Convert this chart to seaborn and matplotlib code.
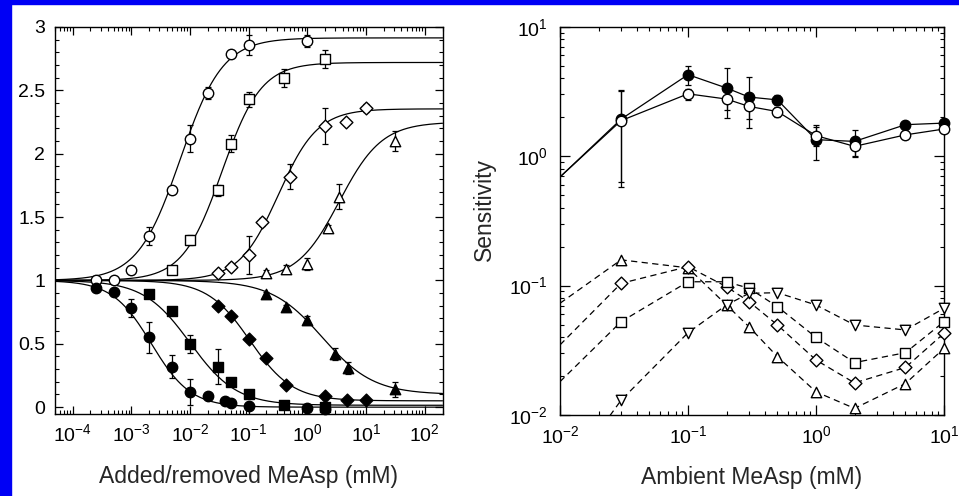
"""
Recreation: MeAsp dose-response (left) and sensitivity vs ambient MeAsp (right).
"""
import numpy as np
import seaborn as sns
import matplotlib.pyplot as plt
from matplotlib.patches import Rectangle
from matplotlib.ticker import MultipleLocator, LogLocator, NullFormatter, FixedLocator

# ---------------- Left panel: responses to added (open) / removed (filled) MeAsp
CIRC_OPEN_X = [2.5e-4, 5e-4, 1e-3, 2e-3, 5e-3, 1e-2, 2e-2, 5e-2, 0.1, 1.0]
CIRC_OPEN_Y = [1.0, 1.0, 1.08, 1.35, 1.71, 2.12, 2.48, 2.79, 2.86, 2.89]
CIRC_OPEN_E = [0.0, 0.0, 0.03, 0.07, 0.03, 0.11, 0.05, 0.03, 0.08, 0.05]

SQ_OPEN_X = [5e-3, 1e-2, 3e-2, 5e-2, 0.1, 0.4, 2.0]
SQ_OPEN_Y = [1.08, 1.32, 1.71, 2.08, 2.43, 2.60, 2.75]
SQ_OPEN_E = [0.03, 0.04, 0.04, 0.07, 0.06, 0.07, 0.07]

DIA_OPEN_X = [3e-2, 5e-2, 0.1, 0.17, 0.5, 2.0, 4.5, 10.0]
DIA_OPEN_Y = [1.06, 1.11, 1.20, 1.46, 1.82, 2.22, 2.25, 2.36]
DIA_OPEN_E = [0.02, 0.03, 0.15, 0.03, 0.10, 0.14, 0.02, 0.03]

TRI_OPEN_X = [0.2, 0.43, 1.0, 2.26, 3.5, 31.0]
TRI_OPEN_Y = [1.06, 1.09, 1.13, 1.41, 1.66, 2.10]
TRI_OPEN_E = [0.02, 0.03, 0.05, 0.03, 0.10, 0.08]

CIRC_FILL_X = [2.5e-4, 5e-4, 1e-3, 2e-3, 5e-3, 1e-2, 2e-2, 4e-2, 5e-2, 0.1, 1.0, 2.0]
CIRC_FILL_Y = [0.94, 0.91, 0.78, 0.55, 0.32, 0.12, 0.09, 0.045, 0.03, 0.01, -0.01, -0.015]
CIRC_FILL_E = [0.02, 0.03, 0.07, 0.12, 0.09, 0.10, 0.02, 0.02, 0.02, 0.02, 0.01, 0.01]

SQ_FILL_X = [2e-3, 5e-3, 1e-2, 3e-2, 5e-2, 0.1, 0.4, 2.0]
SQ_FILL_Y = [0.89, 0.76, 0.50, 0.32, 0.195, 0.10, 0.02, 0.0]
SQ_FILL_E = [0.02, 0.03, 0.07, 0.14, 0.03, 0.03, 0.02, 0.02]

DIA_FILL_X = [3e-2, 5e-2, 0.1, 0.2, 0.43, 2.0, 4.7, 10.0]
DIA_FILL_Y = [0.80, 0.72, 0.535, 0.386, 0.176, 0.085, 0.06, 0.06]
DIA_FILL_E = [0.02, 0.02, 0.02, 0.02, 0.02, 0.02, 0.01, 0.01]

TRI_FILL_X = [0.2, 0.43, 1.0, 2.9, 5.0, 31.0]
TRI_FILL_Y = [0.89, 0.79, 0.69, 0.42, 0.31, 0.14]
TRI_FILL_E = [0.02, 0.02, 0.03, 0.05, 0.05, 0.06]

# Hill fit parameters: (plateau or baseline, K [mM], n)
FIT_OPEN = {'o': (2.914, 6.8e-3, 1.2), 's': (2.72, 0.035, 1.3),
            'D': (2.354, 0.32, 1.3), '^': (2.25, 3.5, 1.2)}
FIT_FILL = {'o': (0.0, 2.2e-3, 1.3), 's': (0.015, 1.0e-2, 1.1),
            'D': (0.05, 0.105, 1.2), '^': (0.10, 1.8, 1.0)}

LEFT_XTICKS = [1e-4, 1e-3, 1e-2, 1e-1, 1e0, 1e1, 1e2]
LEFT_YTICKS = [0, 0.5, 1, 1.5, 2, 2.5, 3]
LEFT_YTICKLABELS = ['0', '0.5', '1', '1.5', '2', '2.5', '3']

# ---------------- Right panel: sensitivity vs ambient MeAsp
AMB_X = [0.01, 0.03, 0.1, 0.2, 0.3, 0.5, 1.0, 2.0, 5.0, 10.0]
SENS_FILL = [0.69, 1.93, 4.26, 3.36, 2.86, 2.72, 1.34, 1.30, 1.75, 1.80]
SENS_FILL_E = [0.0, 1.3, 0.7, 1.4, 1.2, 0.25, 0.4, 0.3, 0.1, 0.1]
SENS_OPEN = [0.69, 1.88, 3.03, 2.76, 2.42, 2.21, 1.44, 1.19, 1.46, 1.62]
SENS_OPEN_E = [0.0, 1.3, 0.3, 0.5, 0.5, 0.2, 0.25, 0.2, 0.1, 0.1]

LOW_TRI_UP = [0.073, 0.158, 0.137, 0.0708, 0.048, 0.0282, 0.0151, 0.01125, 0.0175, 0.0327]
LOW_DIAMOND = [0.0348, 0.104, 0.140, 0.098, 0.0751, 0.0496, 0.0266, 0.0177, 0.0233, 0.0428]
LOW_SQUARE = [0.0181, 0.0526, 0.107, 0.107, 0.0953, 0.0687, 0.0398, 0.0254, 0.0303, 0.0526]
LOW_TRI_DOWN = [0.0029, 0.0130, 0.0432, 0.0708, 0.0871, 0.0881, 0.0708, 0.0496, 0.0454, 0.0667]

RIGHT_TICKS = [1e-2, 1e-1, 1e0, 1e1]

LEFT_XLABEL = 'Added/removed MeAsp (mM)'
RIGHT_XLABEL = 'Ambient MeAsp (mM)'
RIGHT_YLABEL = 'Sensitivity'

sns.set_style('ticks')
plt.rcParams['font.family'] = ['Liberation Sans', 'DejaVu Sans']
plt.rcParams['mathtext.default'] = 'regular'
plt.rcParams['axes.linewidth'] = 1.0

MS = 7.5
TICK_FS = 14
LABEL_FS = 16.5


def markers(ax, x, y, marker, filled, size=MS):
    sns.scatterplot(x=x, y=y, ax=ax, marker=marker, s=size ** 2,
                    color='black' if filled else 'white', edgecolor='black',
                    linewidth=1.0, zorder=4, clip_on=False, legend=False)


def errbars(ax, x, y, e):
    ax.errorbar(x, y, yerr=e, fmt='none', ecolor='black', elinewidth=0.9,
                capsize=2, capthick=0.9, zorder=3)


def style_axes(ax):
    ax.tick_params(which='both', direction='in', top=True, right=True,
                   labelsize=TICK_FS, colors='black')
    ax.tick_params(which='major', length=6, width=0.9)
    ax.tick_params(which='minor', length=3, width=0.8)
    for sp in ax.spines.values():
        sp.set_visible(True)
        sp.set_color('black')


fig = plt.figure(figsize=(9.59, 4.96), dpi=100)
fig.patch.set_facecolor('white')
# blue frame strips on top and left edges
fig.add_artist(Rectangle((0, 0), 11 / 959, 1, transform=fig.transFigure,
                         color='#0000F5', zorder=0))
fig.add_artist(Rectangle((0, 1 - 4 / 496), 1, 4 / 496, transform=fig.transFigure,
                         color='#0000F5', zorder=0))

# ---------------- left
ax1 = fig.add_axes([55 / 959, 1 - 413.5 / 496, 387.5 / 959, 386.5 / 496])
ax1.set_xscale('log')
xs = np.logspace(np.log10(5e-5), np.log10(200), 400)

open_sets = [('o', CIRC_OPEN_X, CIRC_OPEN_Y, CIRC_OPEN_E),
             ('s', SQ_OPEN_X, SQ_OPEN_Y, SQ_OPEN_E),
             ('D', DIA_OPEN_X, DIA_OPEN_Y, DIA_OPEN_E),
             ('^', TRI_OPEN_X, TRI_OPEN_Y, TRI_OPEN_E)]
fill_sets = [('o', CIRC_FILL_X, CIRC_FILL_Y, CIRC_FILL_E),
             ('s', SQ_FILL_X, SQ_FILL_Y, SQ_FILL_E),
             ('D', DIA_FILL_X, DIA_FILL_Y, DIA_FILL_E),
             ('^', TRI_FILL_X, TRI_FILL_Y, TRI_FILL_E)]

for m, x, y, e in open_sets:
    top, k, n = FIT_OPEN[m]
    r = (xs / k) ** n
    sns.lineplot(x=xs, y=1 + (top - 1) * r / (1 + r), ax=ax1, color='black',
                 lw=0.9, errorbar=None, zorder=2)
    errbars(ax1, x, y, e)
    markers(ax1, x, y, m, False, MS - 1 if m == 'D' else MS)

for m, x, y, e in fill_sets:
    base, k, n = FIT_FILL[m]
    r = (xs / k) ** n
    sns.lineplot(x=xs, y=base + (1 - base) / (1 + r), ax=ax1, color='black',
                 lw=0.9, errorbar=None, zorder=2)
    errbars(ax1, x, y, e)
    markers(ax1, x, y, m, True, MS - 1 if m == 'D' else MS)

ax1.set_xlim(5e-5, 200)
ax1.set_ylim(-0.05, 3.0)
ax1.yaxis.set_minor_locator(MultipleLocator(0.1))
ax1.set_yticks(LEFT_YTICKS)
ax1.set_yticklabels(LEFT_YTICKLABELS)
ax1.xaxis.set_major_locator(FixedLocator(LEFT_XTICKS))
ax1.xaxis.set_minor_locator(LogLocator(base=10, subs=np.arange(2, 10), numticks=20))
ax1.xaxis.set_minor_formatter(NullFormatter())
style_axes(ax1)
ax1.tick_params(axis='x', pad=7)
ax1.tick_params(axis='y', pad=7)
ax1.set_xlabel(LEFT_XLABEL, fontsize=LABEL_FS, labelpad=14)
ax1.set_ylabel('')

# ---------------- right
ax2 = fig.add_axes([560 / 959, 1 - 415 / 496, 384 / 959, 388.3 / 496])
ax2.set_xscale('log')
ax2.set_yscale('log')

sns.lineplot(x=AMB_X, y=SENS_FILL, ax=ax2, color='black', lw=0.9, errorbar=None, zorder=2)
sns.lineplot(x=AMB_X, y=SENS_OPEN, ax=ax2, color='black', lw=0.9, errorbar=None, zorder=2)
errbars(ax2, AMB_X[1:], SENS_FILL[1:], SENS_FILL_E[1:])
errbars(ax2, AMB_X[1:], SENS_OPEN[1:], SENS_OPEN_E[1:])
markers(ax2, AMB_X[1:], SENS_FILL[1:], 'o', True)
markers(ax2, AMB_X[1:], SENS_OPEN[1:], 'o', False)

for vals, m in [(LOW_TRI_UP, '^'), (LOW_DIAMOND, 'D'),
                (LOW_SQUARE, 's'), (LOW_TRI_DOWN, 'v')]:
    sns.lineplot(x=AMB_X, y=vals, ax=ax2, color='black', lw=0.9,
                 linestyle=(0, (5, 3.5)), errorbar=None, zorder=2)
    markers(ax2, AMB_X[1:], vals[1:], m, False, MS - 1 if m == 'D' else MS)

ax2.set_xlim(0.01, 10)
ax2.set_ylim(0.01, 10)
for axis in (ax2.xaxis, ax2.yaxis):
    axis.set_major_locator(FixedLocator(RIGHT_TICKS))
    axis.set_minor_locator(LogLocator(base=10, subs=np.arange(2, 10), numticks=10))
    axis.set_minor_formatter(NullFormatter())
style_axes(ax2)
ax2.tick_params(which='major', length=7)
ax2.tick_params(axis='x', pad=7)
ax2.tick_params(axis='y', pad=9)
ax2.set_xlabel(RIGHT_XLABEL, fontsize=LABEL_FS, labelpad=14)
ax2.set_ylabel(RIGHT_YLABEL, fontsize=LABEL_FS)
ax2.yaxis.set_label_coords(-0.167, 0.528)

fig.savefig('out.png', dpi=100, facecolor=fig.get_facecolor())
